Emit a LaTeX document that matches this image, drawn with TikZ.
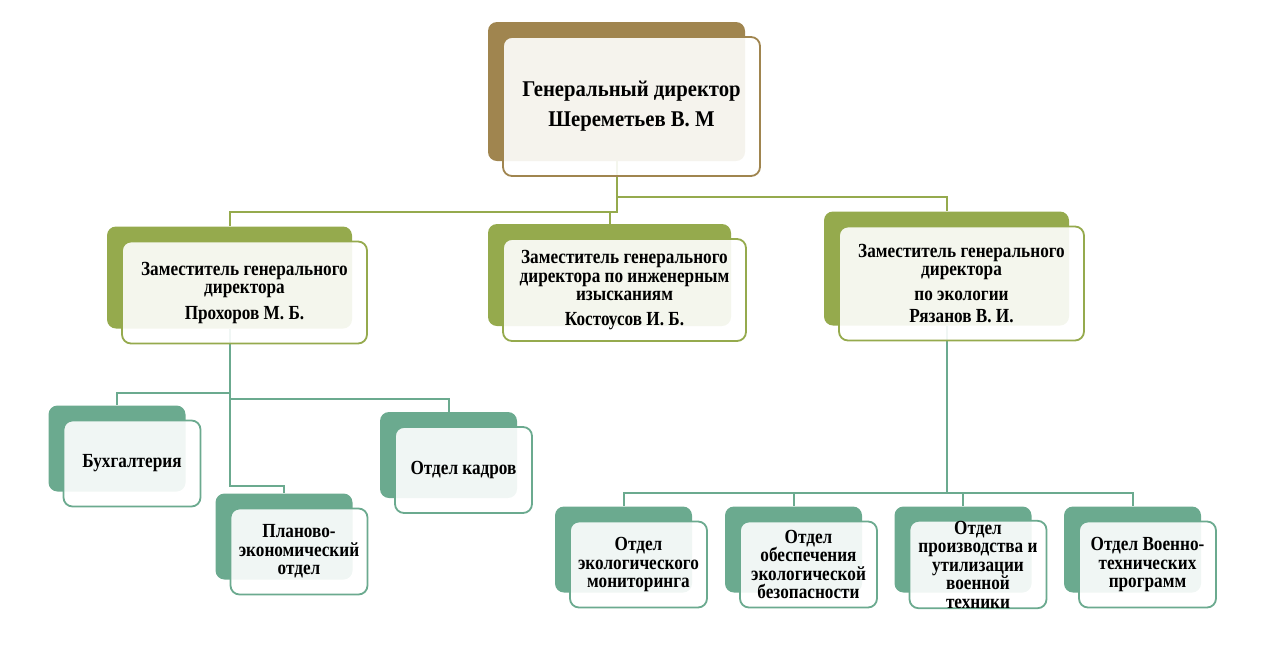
\documentclass[tikz,border=0pt]{standalone}
\usepackage{fontspec}
\setmainfont{Liberation Serif}
\newfontfamily\etroit[FakeStretch=0.86]{Liberation Serif}
\newfontfamily\titre[FakeStretch=0.92]{Liberation Serif}
\usepackage{tikz}
\usetikzlibrary{positioning,calc,backgrounds}
\definecolor{brun}{HTML}{A0854F}
\definecolor{olive}{HTML}{95AA4D}
\definecolor{sarcelle}{HTML}{6BAA8F}

\begin{document}
\begin{tikzpicture}[x=1pt,y=-1pt,
  dos/.style={rounded corners=9pt, inner sep=0pt},
  face/.style={draw, line width=1.8pt, rounded corners=9pt, fill=white, fill opacity=0.9, text opacity=1, align=center, inner sep=0pt, font=\etroit\fontsize{20}{18.5}\selectfont\bfseries},
  dirbox/.style={minimum width=257, minimum height=139},
  zambox/.style={minimum width=245, minimum height=102},
  service/.style={minimum width=137, minimum height=86},
  lienv/.style={olive, line width=2pt},
  lient/.style={sarcelle, line width=2pt}]
  \useasboundingbox (0,0) rectangle (1261,665);
  % directeur
  \node[dos, dirbox, fill=brun] (dg-d) at (616.5, 91.5) {};
  \node[face, dirbox, draw=brun, font=\titre\fontsize{22.5}{30}\selectfont\bfseries] (dg) at ([shift={(15,15)}]dg-d.center) {Генеральный директор\\Шереметьев В. М};
  % adjoints
  \node[dos, zambox, fill=olive] (z1-d) at (229.5, 277.5) {};
  \node[face, zambox, draw=olive] (z1) at ([shift={(15,15)}]z1-d.center) {Заместитель генерального\\директора\\[7pt]Прохоров М. Б.};
  \node[dos, zambox, fill=olive, minimum width=243] (z2-d) at (609.5, 275) {};
  \node[face, zambox, draw=olive, minimum width=243] (z2) at ([shift={(15,15)}]z2-d.center) {Заместитель генерального\\директора по инженерным\\изысканиям\\[6pt]Костоусов И. Б.};
  \node[dos, zambox, fill=olive, minimum height=114] (z3-d) at (946.5, 268.5) {};
  \node[face, zambox, draw=olive, minimum height=114] (z3) at ([shift={(15,15)}]z3-d.center) {Заместитель генерального\\директора\\[6pt]по экологии\\[4pt]Рязанов В. И.};
  % services
  \foreach \n/\x/\y/\t in {bu/117/448.5/{Бухгалтерия},
      pe/284/536.5/{Планово-\\экономический\\отдел},
      ok/448.5/455/{Отдел кадров},
      em/623.5/549.5/{Отдел\\экологического\\мониторинга},
      eb/793.5/549.5/{Отдел\\обеспечения\\экологической\\безопасности},
      pu/963/549.5/{Отдел\\производства и\\утилизации\\военной\\техники},
      vt/1132.5/549.5/{Отдел Военно-\\технических\\программ}}
  {
    \node[dos, service, fill=sarcelle] (\n-d) at (\x, \y) {};
    \node[face, service, draw=sarcelle] (\n) at ([shift={(15,15)}]\n-d.center) {\t};
  }
  % liaisons
  \begin{scope}[on background layer]
    \draw[lienv] (dg-d.south) -- ++(0,51) coordinate (j1) -| (z1-d.north);
    \draw[lienv] (j1) -| (z2-d.north);
    \draw[lienv] (dg-d.south) ++(0,36) -| (z3-d.north);
    \draw[lient] (z1-d.south) -- ++(0,64) -| (bu-d.north);
    \draw[lient] (z1-d.south) ++(0,70) -| (ok-d.north);
    \draw[lient] (z1-d.south) -- ++(0,157) -| (pe-d.north);
    \draw[lient] (z3-d.south) -- ++(0,167) coordinate (j3);
    \foreach \n in {em,eb,pu,vt}
      \draw[lient] (j3) -| (\n-d.north);
  \end{scope}
\end{tikzpicture}
\end{document}
